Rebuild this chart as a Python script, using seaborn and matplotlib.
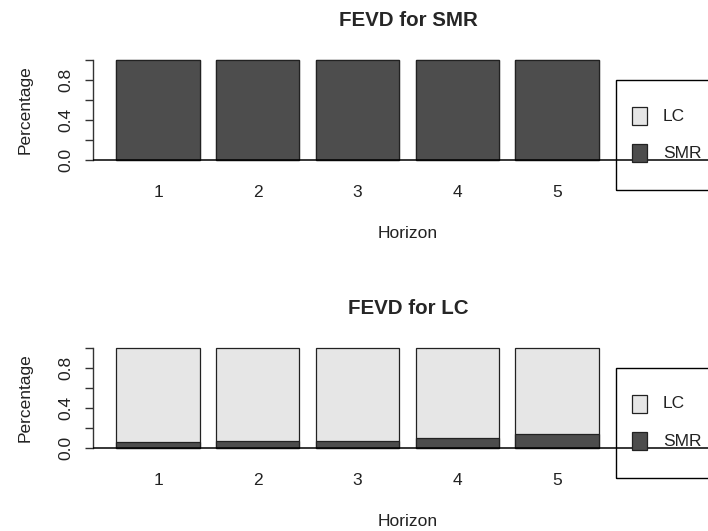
"""
FEVD plot: forecast error variance decomposition of SMR and LC.
"""

import matplotlib.pyplot as plt
import seaborn as sns
from matplotlib.patches import Rectangle

# horizons and shares
horizons = ['1', '2', '3', '4', '5']
smr_from_smr = [1.0, 1.0, 1.0, 1.0, 1.0]
smr_from_lc = [0.0, 0.0, 0.0, 0.0, 0.0]
lc_from_smr = [0.06, 0.073, 0.073, 0.10, 0.143]
lc_from_lc = [0.94, 0.927, 0.927, 0.90, 0.857]

series_names = ['LC', 'SMR']
panel_titles = ['FEVD for SMR', 'FEVD for LC']

COL_LC = '#E6E6E6'
COL_SMR = '#4D4D4D'
EDGE = '#222222'

W, H = 708, 531


def fx(px):
    return px / W


def fy(py):
    return 1 - py / H


def draw_panel(fig, off, title, smr_part, lc_part):
    # axes: left edge 93px, y 0 at pixel 160+off, 100 px per unit
    ax = fig.add_axes([fx(93), fy(164 + off), fx(708) - fx(93), 108 / H])
    totals = [a + b for a, b in zip(smr_part, lc_part)]
    sns.barplot(x=horizons, y=totals, color=COL_LC, saturation=1, width=0.833,
                edgecolor=EDGE, linewidth=0.9, ax=ax)
    sns.barplot(x=horizons, y=smr_part, color=COL_SMR, saturation=1, width=0.833,
                edgecolor=EDGE, linewidth=0.9, ax=ax)
    ax.set_xlim(-0.652, 5.514)
    ax.set_ylim(-0.04, 1.04)
    ax.axhline(0, color='black', lw=1.1, zorder=5)

    for s in ['top', 'right', 'bottom']:
        ax.spines[s].set_visible(False)
    ax.spines['left'].set_bounds(0, 1)
    ax.spines['left'].set_color('#333333')
    ax.spines['left'].set_linewidth(1.0)

    ax.set_yticks([0, 0.2, 0.4, 0.6, 0.8, 1.0])
    ax.set_yticklabels(['0.0', '', '0.4', '', '0.8', ''], rotation=90, va='center')
    ax.tick_params(axis='y', left=True, direction='out', length=6, width=1.0,
                   color='#333333', pad=8, labelsize=12.5, labelcolor='#222222')
    ax.tick_params(axis='x', bottom=False, length=0, pad=15, labelsize=12.5,
                   labelcolor='#222222')

    ax.set_xlabel('Horizon', fontsize=12.5, color='#222222')
    ax.xaxis.set_label_coords((408 - 93) / 615, (164 - 234) / 108)
    ax.xaxis.label.set_va('center')
    ax.set_ylabel('Percentage', fontsize=12.5, color='#222222')
    ax.yaxis.set_label_coords((25 - 93) / 615, 0.5)
    ax.yaxis.label.set_va('center')

    ax.text((408 - 93) / 615, 1 + 36 / 108, title, transform=ax.transAxes,
            ha='center', va='center', fontsize=14.8, fontweight='bold')

    # legend box, partly cut off at the right edge like the original
    fig.patches.append(Rectangle((fx(616), fy(190 + off)), fx(150), 110 / H,
                                 transform=fig.transFigure, fill=False,
                                 edgecolor='black', lw=1.0, zorder=1))
    for name, col, cy in zip(series_names, [COL_LC, COL_SMR], [116, 153]):
        fig.patches.append(Rectangle((fx(632), fy(cy + 9 + off)), fx(15), 18 / H,
                                     transform=fig.transFigure, facecolor=col,
                                     edgecolor=EDGE, lw=0.9, zorder=2))
        fig.text(fx(663), fy(cy + off), name, ha='left', va='center',
                 fontsize=12.5, color='#222222')
    return ax


def main():
    sns.set_theme(style='white')
    plt.rcParams['font.family'] = ['Liberation Sans', 'DejaVu Sans']

    fig = plt.figure(figsize=(W / 100, H / 100), dpi=100)
    draw_panel(fig, 0, panel_titles[0], smr_from_smr, smr_from_lc)
    draw_panel(fig, 288, panel_titles[1], lc_from_smr, lc_from_lc)

    fig.savefig('out.png', dpi=100)


if __name__ == "__main__":
    main()
